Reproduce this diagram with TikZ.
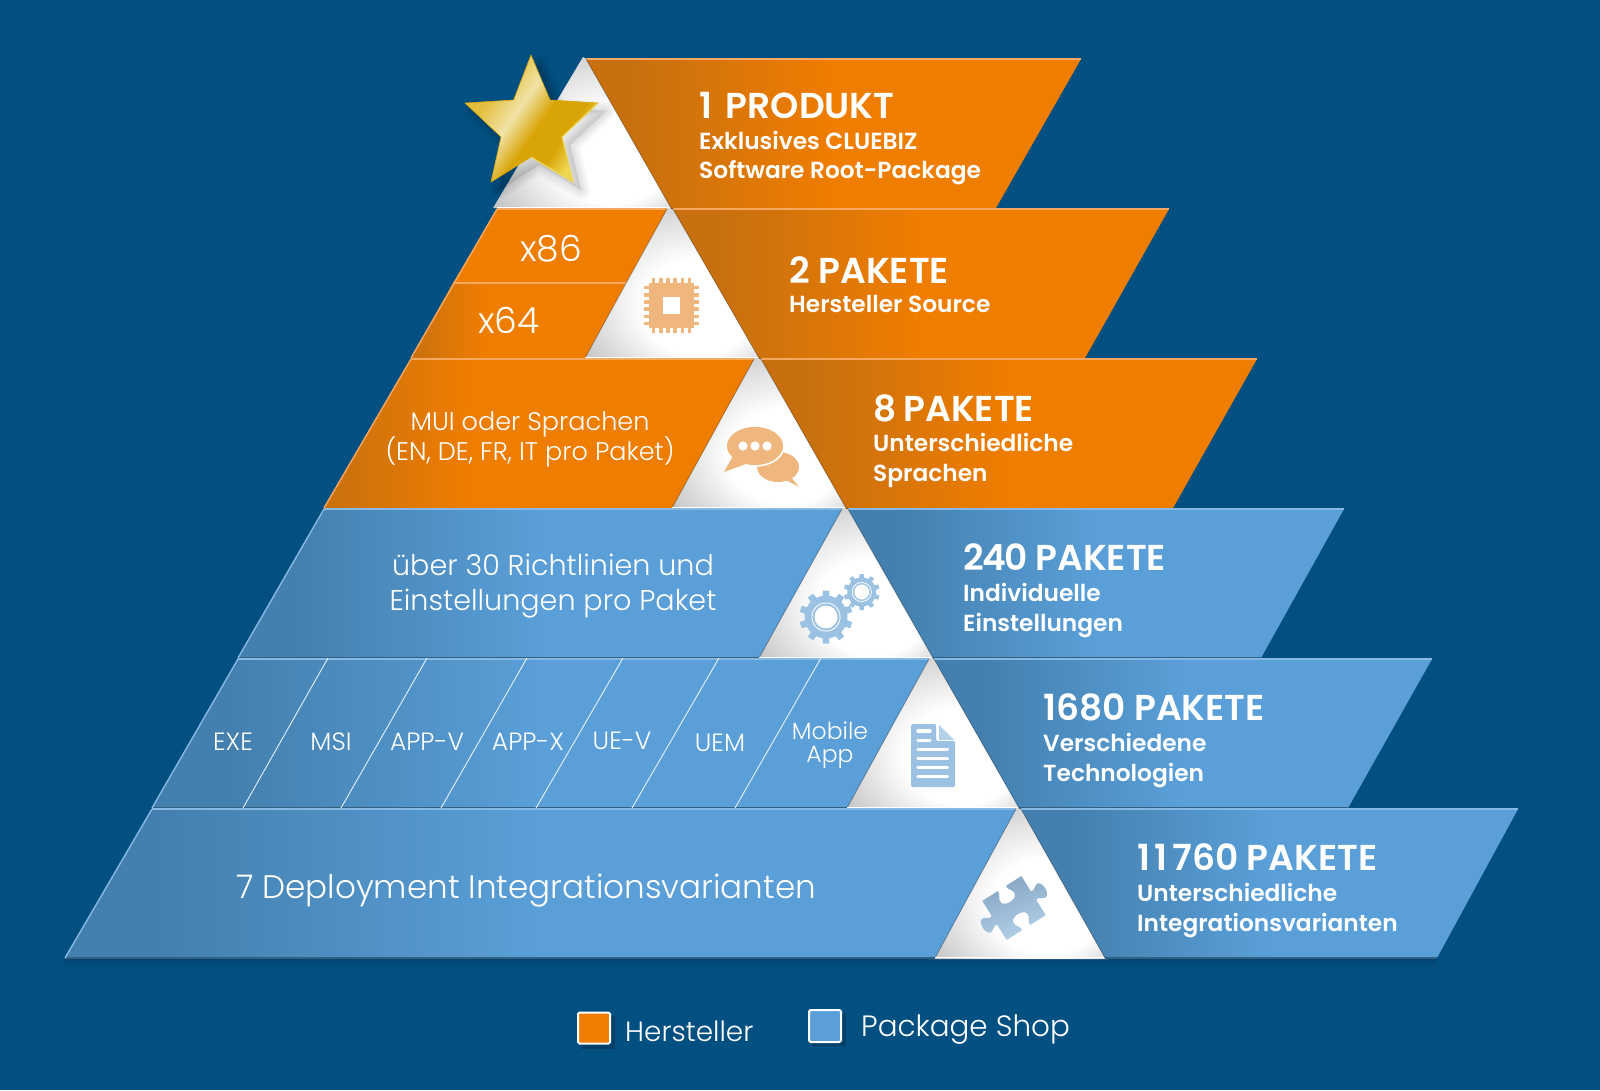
\documentclass[tikz,border=0pt]{standalone}
\usepackage{fontspec}
\setmainfont{Poppins}
\newfontfamily\lightf{Poppins Light}
\newfontfamily\boldf{Poppins SemiBold}
\usetikzlibrary{calc}
\definecolor{bg}{HTML}{025082}
\definecolor{bgd}{HTML}{03446F}
\definecolor{oa}{HTML}{C8700F}
\definecolor{ob}{HTML}{EF7D00}
\definecolor{ol}{HTML}{F6A860}
\definecolor{ba}{HTML}{4380AF}
\definecolor{bb}{HTML}{5A9FD8}
\definecolor{bl}{HTML}{86B9E4}
\definecolor{icoO}{HTML}{EFB67E}
\definecolor{icoB}{HTML}{9CC2E3}
\definecolor{trig}{HTML}{BDBDBD}
\definecolor{sa}{HTML}{E3BD3C}
\definecolor{sb}{HTML}{F1E3A6}
\definecolor{sc}{HTML}{D8A406}
\definecolor{sd}{HTML}{EFD650}
\pgfdeclarehorizontalshading{ograd}{100bp}{color(0bp)=(oa);color(30bp)=(oa);color(50bp)=(ob);color(100bp)=(ob)}
\pgfdeclarehorizontalshading{bgrad}{100bp}{color(0bp)=(ba);color(30bp)=(ba);color(50bp)=(bb);color(100bp)=(bb)}
\pgfdeclarehorizontalshading{ogradl}{100bp}{color(0bp)=(oa);color(25bp)=(oa);color(42bp)=(ob);color(100bp)=(ob)}
\pgfdeclarehorizontalshading{oflat}{100bp}{color(0bp)=(ob);color(100bp)=(ob)}
\pgfdeclareradialshading{trish}{\pgfpoint{12bp}{-11bp}}{color(0bp)=(white);color(16bp)=(white);color(37bp)=(trig);color(50bp)=(trig)}
\pgfdeclarehorizontalshading{starsh}{100bp}{color(0bp)=(sa);color(32bp)=(sa);color(44bp)=(sb);color(54bp)=(sc);color(64bp)=(sc);color(72bp)=(sd);color(100bp)=(sd)}
\tikzset{
  bandtop/.style={line width=2.4pt},
  tritri/.style={shading=trish,shade},
  bigt/.style={text=white,anchor=west,inner sep=0pt,font=\boldf\fontsize{36}{36}\selectfont},
  subt/.style={text=white,anchor=west,inner sep=0pt,font=\boldf\fontsize{23.3}{23.3}\selectfont},
  thin24/.style={text=white,inner sep=0pt,font=\lightf\fontsize{25}{25}\selectfont},
  legend/.style={draw=white,line width=2pt,rounded corners=1.5pt},
  divider/.style={draw=white!85!bb,line width=.9pt},
  edgeline/.style={black,opacity=.3,line width=.8pt},
}
\newcommand{\orangeband}[5]{%
  \shade[shading=#1] #2 -- #3 -- #4 -- #5 -- cycle;
  \draw[ol,bandtop] #2 -- #3;
  \draw[black!40!oa,line width=.8pt] #4 -- #5;
}
\newcommand{\blueband}[5]{%
  \shade[shading=#1] #2 -- #3 -- #4 -- #5 -- cycle;
  \draw[bl,bandtop] #2 -- #3;
  \draw[black!25!ba,line width=1.2pt] #4 -- #5;
}
\newcommand{\tricorn}[2]{%
  \path[tritri] (#1-5,#2-3) -- (#1+5,#2-3) -- (#1+90,#2+148) -- (#1-90,#2+148) -- cycle;
}
\newcommand{\gearicon}[7]{%
  \begin{scope}[shift={(#1,#2)}]
    \foreach \a in {0,36,...,359} {
      \fill[icoB,rotate=\a] (-#3*.17,0) -- (-#3*.12,-#3) -- (#3*.12,-#3) -- (#3*.17,0) -- cycle;
    }
    \fill[icoB] (0,0) circle (#4);
    \fill[white] (0,0) circle (#7);
    \fill[icoB] (0,0) circle ({#7-.9});
    \fill[white] (0,0) circle (#6);
  \end{scope}
}
\begin{document}
\begin{tikzpicture}[x=1pt,y=-1pt]
\useasboundingbox (0,0) rectangle (1600,1090);
\fill[bg] (0,0) rectangle (1600,1090);
\shade[top color=bgd,bottom color=bg] (65,958) rectangle (1437,968);

% triangles
\path[tritri] (583,57) -- (588,60) -- (673,208) -- (493,208) -- cycle;
\tricorn{670}{211}
\tricorn{757}{361}
\tricorn{845}{511}
\tricorn{932}{661}
\tricorn{1019}{811}

% star shadow
\foreach \w in {1,4,...,19}{
  \draw[black,opacity=.018,line width=\w pt,line join=round,fill=black,fill opacity=.012]
   (539,63)--(558,108)--(606,111)--(570,145)--(581,190)--(539,165)--(499,190)--(509,145)--(473,111)--(521,108)--cycle;
}

% right bands
\orangeband{ograd}{(586,59)}{(1081,59)}{(996,208)}{(671,208)}
\orangeband{ograd}{(673,209)}{(1169,209)}{(1085,358)}{(759,358)}
\orangeband{ograd}{(761,359)}{(1257,359)}{(1173,508)}{(846,508)}
\blueband{bgrad}{(848,509)}{(1344,509)}{(1261,658)}{(933,658)}
\blueband{bgrad}{(934,659)}{(1432,659)}{(1348,808)}{(1019,808)}
\blueband{bgrad}{(1021,809)}{(1518,809)}{(1437,958)}{(1105,958)}

% left bands
\orangeband{oflat}{(497,209)}{(667,209)}{(626,283)}{(453,283)}
\orangeband{ogradl}{(453,283)}{(626,283)}{(585,358)}{(411,358)}
\orangeband{ogradl}{(411,359)}{(754,359)}{(672,508)}{(324,508)}
\blueband{bgrad}{(324,509)}{(842,509)}{(759,658)}{(238,658)}
\blueband{bgrad}{(238,659)}{(929,659)}{(847,808)}{(152,808)}
\blueband{bgrad}{(152,809)}{(1016,809)}{(935,958)}{(65,958)}
\draw[ol,line width=1.4pt] (497,209) -- (411,358);
\draw[ol,line width=1.4pt] (411,359) -- (324,508);
\draw[bl,line width=1.4pt] (324,509) -- (238,658);
\draw[bl,line width=1.4pt] (238,659) -- (152,808);
\draw[bl,line width=1.4pt] (152,809) -- (65,958);
\draw[ol,line width=1.4pt] (453,283) -- (626,283);

% triangle edges
\draw[edgeline] (586,59) -- (671,208) (673,209) -- (759,358) (761,359) -- (846,508) (848,509) -- (933,658) (934,659) -- (1019,808) (1021,809) -- (1105,958);
\draw[edgeline] (667,209) -- (585,358) (754,359) -- (672,508) (842,509) -- (759,658) (929,659) -- (847,808) (1016,809) -- (935,958);
% white triangle feet
\draw[white,line width=1.2pt] (497,207.5) -- (670,207.5) (585,357.5) -- (758,357.5) (672,507.5) -- (845,507.5) (759,657.5) -- (932,657.5) (847,807.5) -- (1018,807.5) (935,957.5) -- (1104,957.5);

% dividers
\coordinate (d1t) at (328,658); \coordinate (d1b) at (243,808);
\coordinate (d2t) at (427,658); \coordinate (d2b) at (341,808);
\coordinate (d3t) at (527,658); \coordinate (d3b) at (441,808);
\coordinate (d4t) at (623,658); \coordinate (d4b) at (536,808);
\coordinate (d5t) at (719,658); \coordinate (d5b) at (632,808);
\coordinate (d6t) at (821,658); \coordinate (d6b) at (735,808);
\foreach \i in {1,...,6}{\draw[divider] (d\i t) -- (d\i b);}

% star
\shade[shading=starsh,shading angle=-35] (531,55)--(550,100)--(598,103)--(562,137)--(573,182)--(531,157)--(491,182)--(501,137)--(465,103)--(513.6,100)--cycle;
\draw[sd,line width=1.2pt,line join=round] (598,103)--(562,137)--(573,182)--(531,157);
\draw[sc,line width=.6pt,line join=round] (531,157)--(491,182)--(501,137)--(465,103)--(513.6,100)--(531,55)--(550,100)--(598,103);

% chip icon
\begin{scope}[shift={(671.5,305.5)}]
  \foreach \p in {-18,-10.8,-3.6,3.6,10.8,18}{
    \fill[icoO] (\p-1.8,-27.5) rectangle (\p+1.8,27.5);
    \fill[icoO] (-27.5,\p-1.8) rectangle (27.5,\p+1.8);
  }
  \fill[icoO] (-22.5,-22.5) rectangle (22.5,22.5);
  \fill[white] (-8.5,-8.5) rectangle (8.5,8.5);
\end{scope}

% speech bubbles
\fill[icoO] (778,467) ellipse (21 and 15);
\fill[icoO] (790,476) -- (799,487) -- (782,478) -- cycle;
\fill[icoO,draw=white,line width=1.6pt] (755,446) ellipse (29 and 20);
\fill[icoO] (733,456) -- (724,472) -- (746,464) -- cycle;
\fill[white] (743,446) circle (4.6) (755,446) circle (4.6) (767,446) circle (4.6);

% gears
\gearicon{826}{617}{26.5}{21.5}{10}{11.5}{14.5}
\gearicon{861.7}{592}{18}{14.5}{10}{7.5}{10}

% document icon
\fill[icoB,rounded corners=1.5pt] (911,724) -- (936,724) -- (936,741) -- (955,741) -- (955,787) -- (911,787) -- cycle;
\fill[icoB!75!white] (939,725) -- (954,740) -- (939,740) -- cycle;
\draw[white,line width=3.4pt,line cap=round] (918,731) -- (930,731) (918,740.7) -- (930,740.7) (918,749.5) -- (947.5,749.5) (918,758.7) -- (947.5,758.7) (918,767.5) -- (947.5,767.5) (918,776.7) -- (947.5,776.7);

% puzzle
\begin{scope}[shift={(1014,908)},x={(.85pt,.54pt)},y={(.53pt,-.85pt)}]
\shade[left color=icoB!85!black,right color=icoB!75!white,shading angle=20]
 (-23,-23) -- (-5,-23) .. controls (-3,-19) and (-10,-16) .. (-8,-11) .. controls (-6,-6) and (6,-6) .. (8,-11) .. controls (10,-16) and (3,-19) .. (5,-23) -- (23,-23)
 -- (23,-5) .. controls (27,-3) and (29,-9) .. (33,-8) .. controls (38,-6) and (38,6) .. (33,8) .. controls (29,9) and (27,3) .. (23,5) -- (23,23)
 -- (5,23) .. controls (3,19) and (10,16) .. (8,11) .. controls (6,6) and (-6,6) .. (-8,11) .. controls (-10,16) and (-3,19) .. (-5,23) -- (-23,23)
 -- (-23,5) .. controls (-27,3) and (-29,9) .. (-33,8) .. controls (-38,6) and (-38,-6) .. (-33,-8) .. controls (-29,-9) and (-27,-3) .. (-23,-5) -- cycle;
\end{scope}

% right texts
\node[bigt] (t1) at (699,105) {1\kern5pt{} PRODUKT};
\node[subt] (t1a) at (699,140) {Exklusives CLUEBIZ};
\node[subt] (t1b) at (699,173) {Software Root-Package};
\node[bigt] (t2) at (789,270) {2 PAKETE};
\node[subt] (t2a) at (789,304) {Hersteller Source};
\node[bigt] (t3) at (873,408) {8\kern-1.5pt{} PAKETE};
\node[subt] (t3a) at (873,442) {Unterschiedliche};
\node[subt] (t3b) at (873,476) {Sprachen};
\node[bigt] (t4) at (963,557) {2\kern-1.5pt 4\kern-1.5pt 0\kern-1pt{} PAKETE};
\node[subt] (t4a) at (963,592) {Individuelle};
\node[subt] (t4b) at (963,626) {Einstellungen};
\node[bigt] (t5) at (1043,707) {1680 PAKETE};
\node[subt] (t5a) at (1043,742) {Verschiedene};
\node[subt] (t5b) at (1043,776) {Technologien};
\node[bigt] (t6) at (1137,857) {1\kern4pt 1\kern5pt 760 PAKETE};
\node[subt] (t6a) at (1137,892) {Unterschiedliche};
\node[subt] (t6b) at (1137,926) {Integrationsvarianten};

% left texts
\node[thin24,font=\lightf\fontsize{36}{36}\selectfont] (x86) at (551,249) {x86};
\node[thin24,font=\lightf\fontsize{36}{36}\selectfont] (x64) at (509,320) {x64};
\node[thin24,font=\lightf\fontsize{25.5}{25.5}\selectfont] (m1) at (530,424) {MUI oder Sprachen};
\node[thin24,font=\lightf\fontsize{25.5}{25.5}\selectfont] (m2) at (530,452) {(EN, DE, FR, IT pro Paket)};
\node[thin24,font=\lightf\fontsize{28.6}{28.6}\selectfont] (r1) at (553,565) {über 30 Richtlinien und};
\node[thin24,font=\lightf\fontsize{28.6}{28.6}\selectfont] (r2) at (553,604) {Einstellungen pro Paket};
\node[thin24] (v1) at (233,742) {EXE};
\node[thin24] (v2) at (331,742) {MSI};
\node[thin24] (v3) at (427,742) {APP-V};
\node[thin24] (v4) at (528,742) {APP-X};
\node[thin24] (v5) at (622,741) {UE-V};
\node[thin24] (v6) at (720,743) {UEM};
\node[thin24,font=\lightf\fontsize{23.5}{23.5}\selectfont] (v7) at (830,731) {Mobile};
\node[thin24,font=\lightf\fontsize{23.5}{23.5}\selectfont] (v8) at (830,757) {App};
\node[thin24,anchor=west,font=\lightf\fontsize{32.6}{32.6}\selectfont] (dep) at (236,891) {7 Deployment Integrationsvarianten};

% legend
\fill[black,opacity=.2] (581,1016) rectangle (615,1049);
\fill[black,opacity=.2] (812,1013) rectangle (846,1046);
\node[legend,fill=ob,minimum width=32pt,minimum height=31pt,inner sep=0pt] (lo) at (594,1028) {};
\node[legend,fill=bb,minimum width=32pt,minimum height=32pt,inner sep=0pt] (lb) at (825,1026) {};
\node[thin24,anchor=west,font=\lightf\fontsize{27.9}{27.9}\selectfont] (lht) at (625,1031) {Hersteller};
\node[thin24,anchor=west,font=\lightf\fontsize{29.4}{29.4}\selectfont] (lbt) at (861,1030) {Package Shop};
\end{tikzpicture}
\end{document}
